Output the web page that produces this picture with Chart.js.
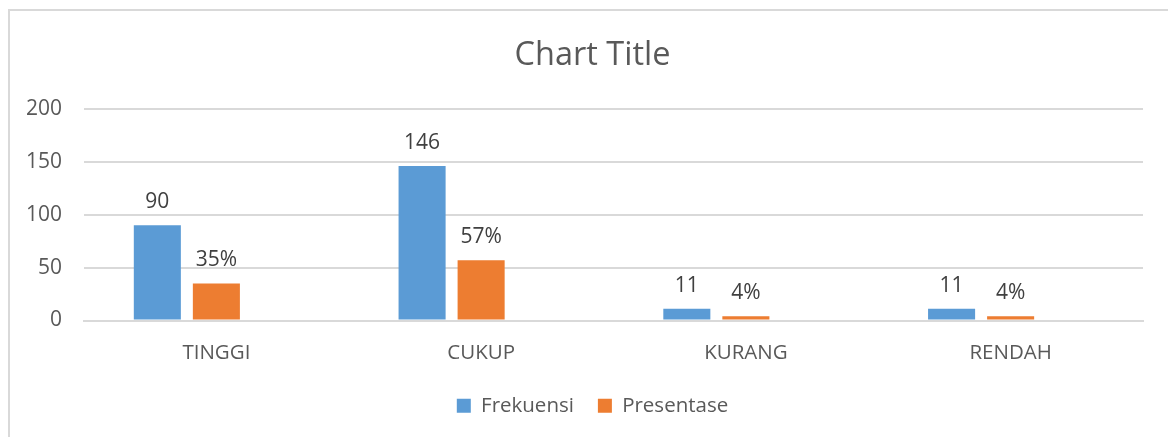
<!DOCTYPE html>
<html>
<head>
<meta charset="utf-8">
<script src="https://cdn.jsdelivr.net/npm/chart.js@4"></script>
<style>
  html, body { margin: 0; padding: 0; background: #fff; }
  #wrap { position: relative; width: 1168px; height: 437px; overflow: hidden; }
  #frame { position: absolute; left: 8px; top: 9px; width: 1300px; height: 600px;
           border-left: 2px solid #d9d9d9; border-top: 2px solid #d9d9d9; }
  #chart { position: absolute; left: 0; top: 0; }
</style>
</head>
<body>
<div id="wrap">
  <div id="frame"></div>
  <canvas id="chart" width="1168" height="437"></canvas>
</div>
<script>
// ---- data ----
const categories = ["TINGGI", "CUKUP", "KURANG", "RENDAH"];
const frekuensi  = [90, 146, 11, 11];
const presentase = [35, 57, 4, 4];
const yTicks     = [0, 50, 100, 150, 200];

const FONT = "'Open Sans', 'Liberation Sans', sans-serif";
const TEXT = "#595959";

// value labels above each bar
const barLabels = {
  id: "barLabels",
  afterDatasetsDraw(chart) {
    const ctx = chart.ctx;
    ctx.save();
    ctx.font = "21px " + FONT;
    ctx.fillStyle = "#404040";
    ctx.textAlign = "center";
    ctx.textBaseline = "alphabetic";
    chart.data.datasets.forEach((ds, i) => {
      if (ds.suffix === undefined) return;
      chart.getDatasetMeta(i).data.forEach((bar, j) => {
        if (ds.data[j] == null) return;
        ctx.fillText(ds.data[j] + ds.suffix, bar.x, bar.y - 17);
      });
    });
    ctx.restore();
  }
};

// the original chart frame is wider than the picture, so title/legend sit right of centre
const shiftBoxes = {
  id: "shiftBoxes",
  afterLayout(chart) {
    [chart.titleBlock, chart.legend].forEach(b => {
      if (!b) return;
      b.left += 21;
      b.right += 21;
    });
  }
};

new Chart(document.getElementById("chart"), {
  type: "bar",
  data: {
    labels: categories,
    datasets: [
      { label: "Frekuensi",  data: frekuensi,  backgroundColor: "#5b9bd5", suffix: "" },
      { label: "Presentase", data: presentase, backgroundColor: "#ed7d31", suffix: "%" },
      // empty third series in the source sheet, keeps bars off-centre
      { label: "", data: [null, null, null, null], backgroundColor: "transparent" }
    ]
  },
  options: {
    responsive: false,
    animation: false,
    devicePixelRatio: 1,
    categoryPercentage: 0.669,
    barPercentage: 0.797,
    layout: { padding: { left: 0, right: 25, top: 0, bottom: 11 } },
    plugins: {
      title: {
        display: true,
        text: "Chart Title",
        color: TEXT,
        font: { family: FONT, size: 32.5, weight: "normal" },
        padding: { top: 36, bottom: 34 }
      },
      legend: {
        position: "bottom",
        labels: {
          color: TEXT,
          font: { family: FONT, size: 20.5 },
          boxWidth: 14,
          boxHeight: 14,
          padding: 24,
          filter: item => item.text !== ""
        }
      },
      tooltip: { enabled: false }
    },
    scales: {
      x: {
        afterFit(scale) { scale.height = scale.height - 5.6; },
        grid: { display: false },
        border: { color: "#d9d9d9", width: 2 },
        ticks: { color: TEXT, font: { family: FONT, size: 20.5 }, padding: 12 }
      },
      y: {
        min: 0,
        max: 200,
        afterFit(scale) { scale.width = 84; },
        afterBuildTicks(scale) { scale.ticks = yTicks.map(v => ({ value: v })); },
        grid: { color: "#d9d9d9", lineWidth: 2, drawTicks: false },
        border: { display: false },
        ticks: { color: TEXT, font: { family: FONT, size: 21 }, padding: 22 }
      }
    }
  },
  plugins: [barLabels, shiftBoxes]
});
</script>
</body>
</html>
